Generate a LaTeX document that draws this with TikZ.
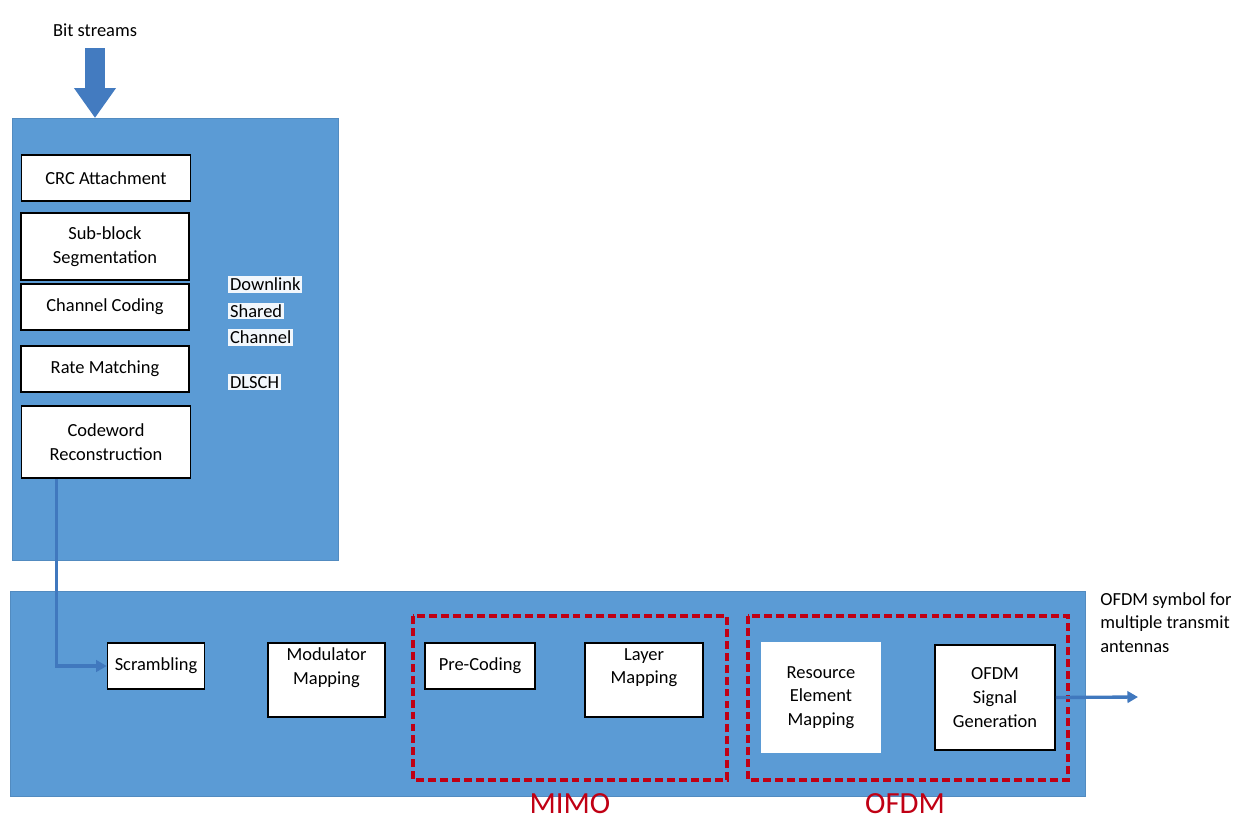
\documentclass[tikz,border=0pt]{standalone}
\usepackage{fontspec}
\setmainfont{Carlito}
\usetikzlibrary{arrows.meta,positioning}
\definecolor{boxblue}{RGB}{91,155,213}
\definecolor{arrowblue}{RGB}{64,120,190}
\definecolor{dashred}{RGB}{192,0,20}
\newcommand{\hlline}[1]{{\setlength{\fboxsep}{1pt}\colorbox{white!92!boxblue}{#1}}}

\begin{document}
\begin{tikzpicture}[x=0.02cm, y=-0.02cm, every node/.style={font=\fontsize{10.5}{13.5}\selectfont},
  bigbox/.style={fill=boxblue, draw=boxblue!90!black, line width=0.6pt, anchor=north west, inner sep=0pt},
  stage/.style={draw=black, fill=white, line width=0.9pt, align=center, inner sep=1pt},
  group/.style={draw=dashred, line width=2.3pt, dash pattern=on 4.5pt off 2.3pt},
  flow/.style={draw=arrowblue, line width=1.9pt, -{Triangle[width=6.5pt,length=6pt]}},
  grouplabel/.style={text=dashred, font=\fontsize{17.5}{20}\selectfont}]
\useasboundingbox (0,0) rectangle (1251,819);
% containers
\node[bigbox, minimum width=6.52cm, minimum height=8.84cm] (dlsch) at (12,118) {};
\node[bigbox, minimum width=21.5cm, minimum height=4.1cm] (phy) at (10,591) {};
% input
\node (bits) at (95,30) {Bit streams};
\draw[draw=arrowblue!90!boxblue, line width=0.4cm, -{Triangle[width=0.8cm,length=0.6cm]}] (95,48) -- (dlsch.north -| bits);
% transport channel stages
\node[stage, minimum width=3.38cm, minimum height=0.92cm] (crc) at (106,178) {CRC Attachment};
\node[stage, minimum width=3.36cm, minimum height=1.34cm] (seg) at (105,246.5) {Sub-block\\Segmentation};
\node[stage, minimum width=3.36cm, minimum height=0.92cm] (chcod) at (105,307) {Channel Coding};
\node[stage, minimum width=3.36cm, minimum height=0.92cm] (rate) at (105,369) {Rate Matching};
\node[stage, minimum width=3.38cm, minimum height=1.44cm] (cwr) at (106,442) {Codeword\\Reconstruction};
\node[anchor=north west, align=left, inner sep=0pt] (chname) at (228,276) {\hlline{Downlink}\\[1.5pt]\hlline{Shared}\\[1.5pt]\hlline{Channel}};
\node[anchor=north west, inner sep=0pt] (chabbr) at (228,374) {\hlline{DLSCH}};
% physical channel stages
\draw[group] (413,616) rectangle (727,780);
\draw[group] (748,616) rectangle (1068,780);
\node[stage, minimum width=1.94cm, minimum height=0.92cm] (scr) at (156,666) {Scrambling};
\node[stage, minimum width=2.34cm, minimum height=1.48cm, text depth=16pt] (mod) at (326.5,680) {Modulator\\Mapping};
\node[stage, minimum width=2.2cm, minimum height=0.92cm] (prec) at (480,666) {Pre-Coding};
\node[stage, minimum width=2.36cm, minimum height=1.48cm, text depth=16pt] (lay) at (644,680) {Layer\\Mapping};
\node[stage, draw=white, minimum width=2.36cm, minimum height=2.18cm] (rem) at (821,697.5) {Resource\\Element\\Mapping};
\node[stage, minimum width=2.4cm, minimum height=2.1cm] (ofdm) at (995,697.5) {OFDM\\Signal\\Generation};
\node[grouplabel] (mimolbl) at (570,804) {MIMO};
\node[grouplabel] (ofdmlbl) at (905,804) {OFDM};
% output
\coordinate (out) at (1138,697);
\node[anchor=north west, align=left, inner sep=0pt] (outtext) at (1100,592) {OFDM symbol for\\multiple transmit\\antennas};
% connectors
\draw[flow] ([xshift=0.72cm]cwr.south west) |- (scr.west);
\draw[flow] (ofdm.east) -- (out);
\end{tikzpicture}
\end{document}
